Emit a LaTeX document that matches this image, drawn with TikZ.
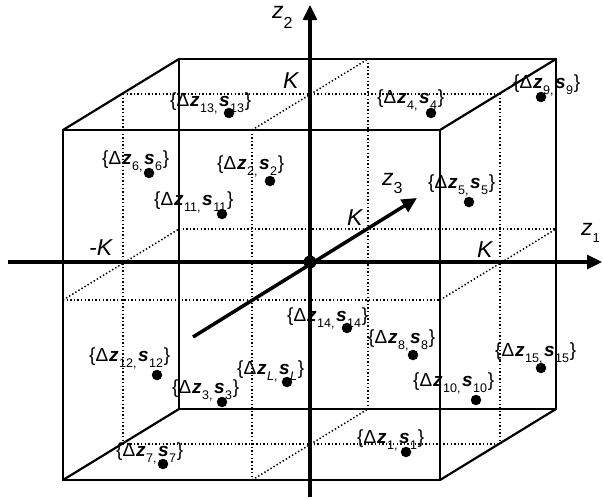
\documentclass[tikz,border=0pt]{standalone}
\usepackage{fontspec}
\setmainfont{Liberation Sans}
\usetikzlibrary{arrows.meta}
\newcommand\sbx[1]{\raisebox{-6.5pt}{\fontsize{12.5}{13}\selectfont #1}}
\newcommand\axsb[2]{\raisebox{-#1}{\fontsize{16}{16}\selectfont\upshape #2}}
\newcommand\lbl[2]{\{Δ\kern0.8pt\textbf{\textit{z}}\kern0.6pt\sbx{#1}\kern1.5pt\textbf{\textit{s}}\kern0.6pt\sbx{#2}\kern0.8pt\}}
\tikzset{
  edge/.style={line width=2.2pt},
  gridln/.style={line width=1.5pt, dash pattern=on 1.4pt off 2.2pt},
  axis/.style={line width=3.2pt, -{Triangle[length=15pt,width=14pt]}},
  pt/.style={circle, fill, inner sep=0pt, minimum size=10.5pt},
  lab/.style={anchor=base west, inner sep=0pt, font=\fontsize{19}{19}\selectfont},
  axlab/.style={anchor=base west, inner sep=0pt, font=\fontsize{23}{23}\selectfont\itshape},
}
\begin{document}
\begin{tikzpicture}[x=1pt,y=-1pt]
\useasboundingbox (0,0) rectangle (603,499);
% cube corners
\coordinate (FTL) at (63,130);  \coordinate (FTR) at (440,130);
\coordinate (FBL) at (63,480);  \coordinate (FBR) at (440,480);
\coordinate (BTL) at (179,59);  \coordinate (BTR) at (556,59);
\coordinate (BBL) at (179,409); \coordinate (BBR) at (556,409);
% mid-plane points
\coordinate (MTL) at (123,94);  \coordinate (MTR) at (500,94);
\coordinate (MBL) at (123,444); \coordinate (MBR) at (500,444);
\coordinate (FTM) at (252,130); \coordinate (FBM) at (252,480);
\coordinate (FML) at (63,300);  \coordinate (FMR) at (440,300);
\coordinate (BTM) at (368,59);  \coordinate (BBM) at (368,409);
\coordinate (BML) at (179,229); \coordinate (BMR) at (556,229);
% dotted grid
\draw[gridln] (FTM) -- (FBM);
\draw[gridln] (FML) -- (FMR);
\draw[gridln] (BTM) -- (BBM);
\draw[gridln] (BML) -- (BMR);
\draw[gridln] (MTL) -- (MTR);
\draw[gridln] (MBL) -- (MBR);
\draw[gridln] (MTL) -- (MBL);
\draw[gridln] (MTR) -- (MBR);
\draw[gridln] (FTM) -- (BTM);
\draw[gridln] (FBM) -- (BBM);
\draw[gridln] (FML) -- (BML);
\draw[gridln] (FMR) -- (BMR);
% cube edges
\draw[edge] (FTL) rectangle (FBR);
\draw[edge] (BTL) rectangle (BBR);
\draw[edge] (FTL) -- (BTL);
\draw[edge] (FTR) -- (BTR);
\draw[edge] (FBL) -- (BBL);
\draw[edge] (FBR) -- (BBR);
% axes
\coordinate (X0) at (8,262);   \coordinate (X1) at (602,262);
\coordinate (Y0) at (310,497); \coordinate (Y1) at (310,5);
\coordinate (W0) at (193,337); \coordinate (W1) at (417,198);
\draw[axis] (X0) -- (X1);
\draw[axis] (Y0) -- (Y1);
\draw[axis, line width=3.5pt] (W0) -- (W1);
\node[pt, minimum size=13pt] (O) at (310,262) {};
% axis labels
\node[axlab] (lz2) at (272,18) {z\axsb{10pt}{2}};
\node[axlab] (lz3) at (382,185) {z\axsb{8pt}{3}};
\node[axlab] (lz1) at (581,235) {z\axsb{7pt}{\fontsize{13}{13}\selectfont 1}};
\node[axlab] (k1) at (283,88) {K};
\node[axlab] (k2) at (347,225) {K};
\node[axlab] (k3) at (89,255) {-K};
\node[axlab] (k4) at (477,257) {K};
% labels and points
\node[lab] (l13) at (170,106) {\lbl{13,}{13}}; \node[pt] (p13) at (229,113) {};
\node[lab] (l4)  at (377,103) {\lbl{4,}{4}};   \node[pt] (p4)  at (431,113) {};
\node[lab] (l9)  at (513,88)  {\lbl{9,}{9}};   \node[pt] (p9)  at (541,97) {};
\node[lab] (l6)  at (102,164) {\lbl{6,}{6}};   \node[pt] (p6)  at (149,173) {};
\node[lab] (l2)  at (217,169) {\lbl{2,}{2}};   \node[pt] (p2)  at (270,181) {};
\node[lab] (l11) at (154,205) {\lbl{11,}{11}}; \node[pt] (p11) at (222,214) {};
\node[lab] (l5)  at (428,188) {\lbl{5,}{5}};   \node[pt] (p5)  at (469,202) {};
\node[lab] (l14) at (287,321) {\lbl{14,}{14}}; \node[pt] (p14) at (347,328) {};
\node[lab] (l8)  at (368,343) {\lbl{8,}{8}};   \node[pt] (p8)  at (413,355) {};
\node[lab] (l15) at (495,356) {\lbl{15,}{15}}; \node[pt] (p15) at (541,368) {};
\node[lab] (l10) at (413,386) {\lbl{10,}{10}}; \node[pt] (p10) at (476,400) {};
\node[lab] (l1)  at (357,443) {\lbl{1,}{1}};   \node[pt] (p1)  at (406,452) {};
\node[lab] (l12) at (89,361)  {\lbl{12,}{12}}; \node[pt] (p12) at (157,375) {};
\node[lab] (lL)  at (237,374) {\lbl{\textit{L},}{\textit{L}}}; \node[pt] (pL) at (287,382) {};
\node[lab] (l3)  at (172,393) {\lbl{3,}{3}};   \node[pt] (p3)  at (222,402) {};
\node[lab] (l7)  at (116,456) {\lbl{7,}{7}};   \node[pt] (p7)  at (163,464) {};
\end{tikzpicture}
\end{document}
